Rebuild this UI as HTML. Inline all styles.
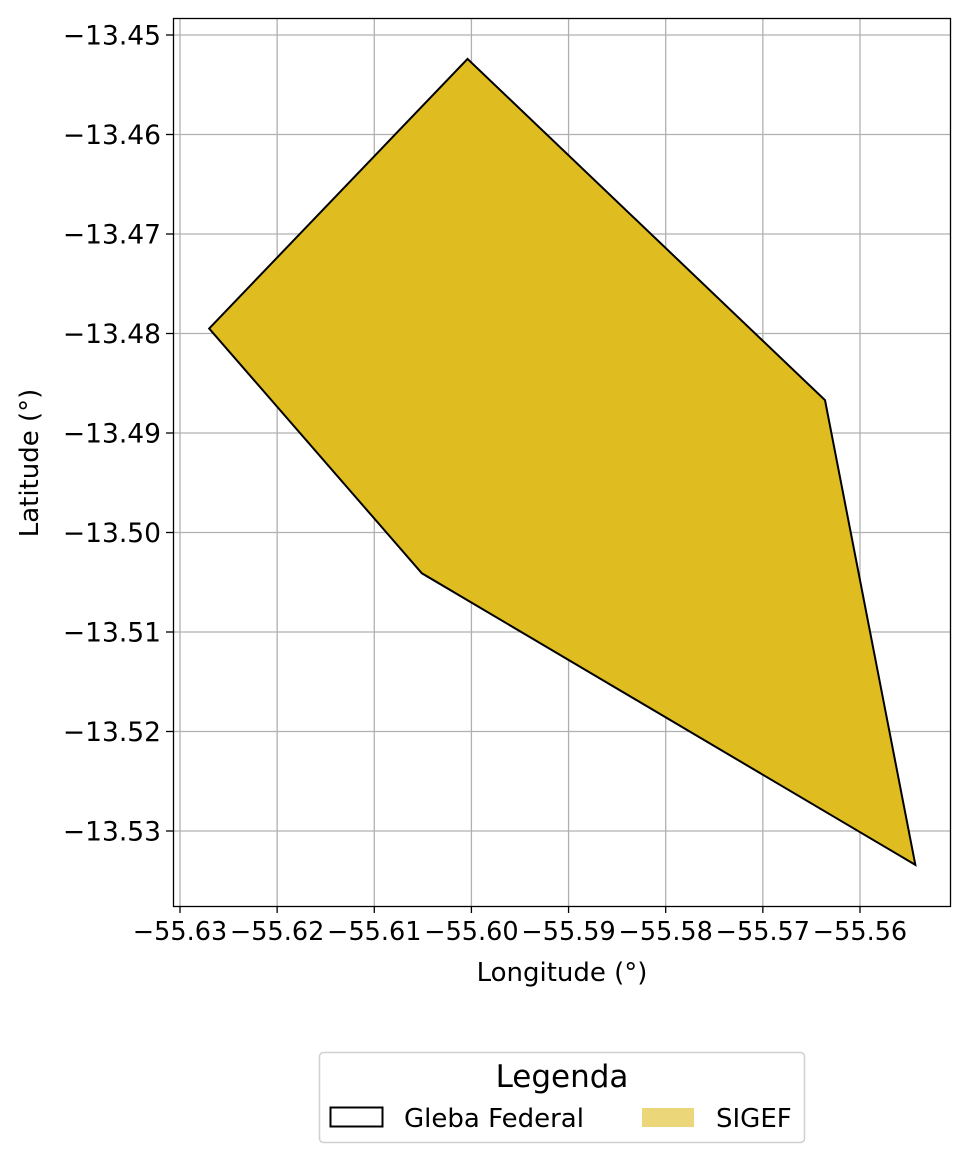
<!DOCTYPE html>
<html><head><meta charset="utf-8"><style>
body{margin:0;background:#fff;}
svg{display:block;font-family:"DejaVu Sans","Liberation Sans",sans-serif;}
</style></head><body>
<svg id="chart" width="969" height="1163" viewBox="0 0 969 1163">
<rect width="969" height="1163" fill="#fff"/>
<g id="grid"></g>
<polygon id="poly" fill="#dfbc20" stroke="#000" stroke-width="2" stroke-linejoin="miter"/>
<rect x="173.5" y="18.5" width="777" height="888" fill="none" stroke="#000" stroke-width="1.3"/>
<g id="ticks"></g>
<text x="562" y="981" font-size="26" text-anchor="middle">Longitude (°)</text>
<text transform="translate(38,463) rotate(-90)" font-size="26" text-anchor="middle">Latitude (°)</text>
<g>
<rect x="319.5" y="1052.5" width="485" height="90" rx="4" fill="#fff" stroke="#d0d0d0" stroke-width="1.5"/>
<text x="562" y="1087" font-size="31" text-anchor="middle">Legenda</text>
<rect x="330.5" y="1107.5" width="52" height="19" fill="none" stroke="#000" stroke-width="2"/>
<text x="404" y="1127" font-size="26">Gleba Federal</text>
<rect x="642" y="1108" width="52" height="19" fill="#ebd679"/>
<text x="716" y="1127" font-size="26">SIGEF</text>
</g>
</svg>
<script>
const xTicks=[-55.63,-55.62,-55.61,-55.60,-55.59,-55.58,-55.57,-55.56];
const yTicks=[-13.45,-13.46,-13.47,-13.48,-13.49,-13.50,-13.51,-13.52,-13.53];
const polyLon=[-55.6270,-55.6004,-55.5636,-55.5543,-55.6051];
const polyLat=[-13.4795,-13.4524,-13.4867,-13.5334,-13.5041];
const NS="http://www.w3.org/2000/svg";
function sx(v){return 180+(v+55.63)/0.01*97.14;}
function sy(v){return 35+(-13.45-v)/0.01*99.5;}
const grid=document.getElementById('grid'),ticks=document.getElementById('ticks');
function el(t,a,p){const e=document.createElementNS(NS,t);for(const k in a)e.setAttribute(k,a[k]);p.appendChild(e);return e;}
xTicks.forEach(v=>{const x=sx(v);
 const g=el('line',{x1:x,x2:x,y1:18,y2:906,stroke:'#b0b0b0','stroke-width':1.3},grid);
 
 
 el('line',{x1:x,x2:x,y1:906,y2:913,stroke:'#000','stroke-width':1.3},ticks);
 const t=el('text',{x:x,y:940,'font-size':25.5,'text-anchor':'middle'},ticks);
 t.textContent='\u2212'+Math.abs(v).toFixed(2);
 
 });
yTicks.forEach(v=>{const y=sy(v);
 const g=el('line',{x1:173,x2:950,y1:y,y2:y,stroke:'#b0b0b0','stroke-width':1.3},grid);
 
 
 el('line',{x1:166,x2:173,y1:y,y2:y,stroke:'#000','stroke-width':1.3},ticks);
 const t=el('text',{x:161,y:y+9.5,'font-size':26.5,'text-anchor':'end'},ticks);
 t.textContent='\u2212'+Math.abs(v).toFixed(2);
 
 });
document.getElementById('poly').setAttribute('points',polyLon.map((v,i)=>sx(v)+','+sy(polyLat[i])).join(' '));
</script>
</body></html>
